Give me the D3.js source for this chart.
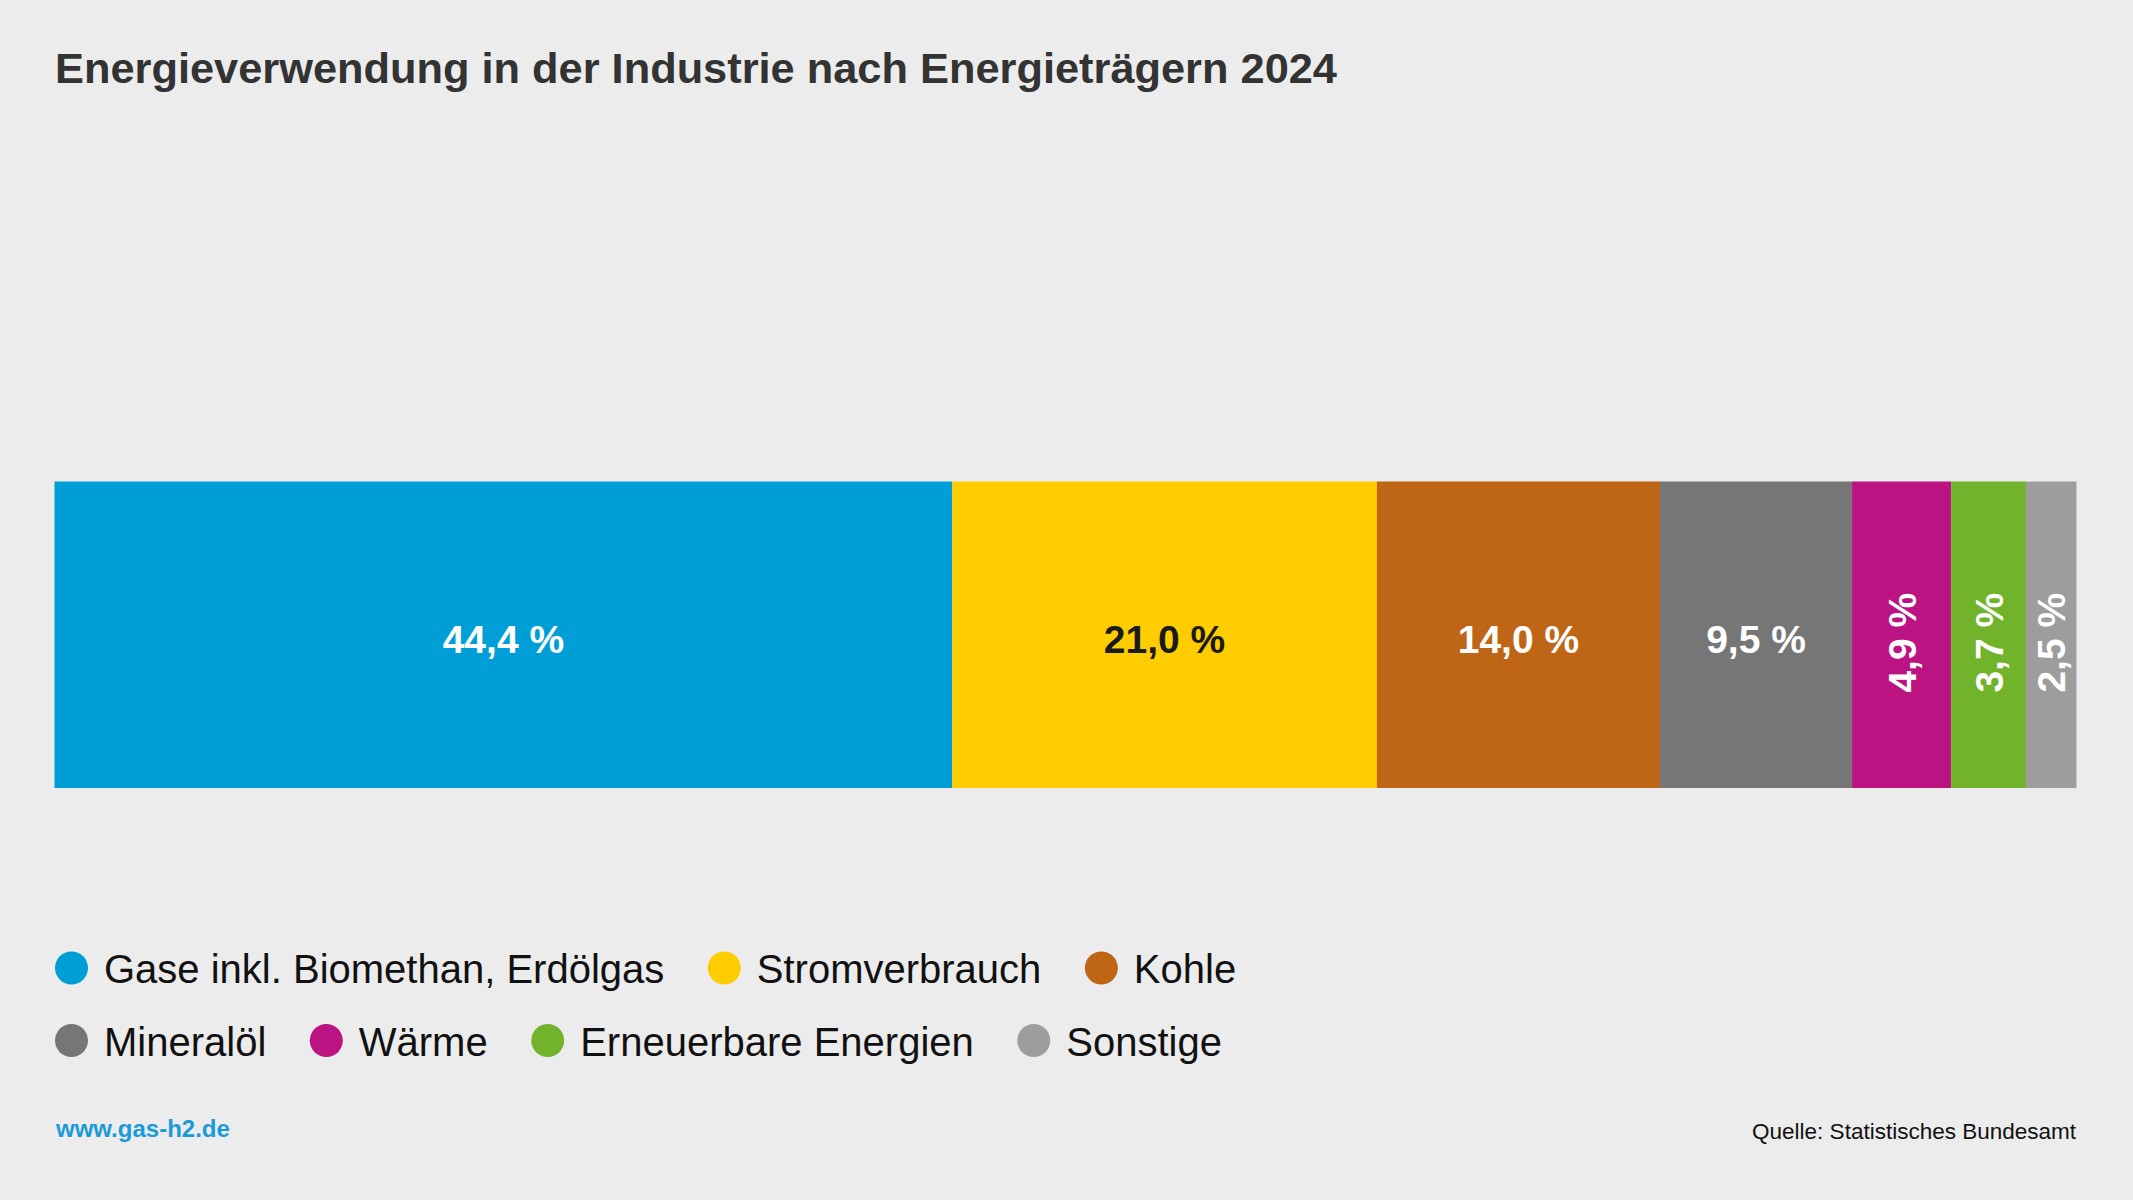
<!DOCTYPE html>
<html>
<head>
<meta charset="utf-8">
<script src="https://cdn.jsdelivr.net/npm/d3@7"></script>
<style>
  html, body { margin: 0; padding: 0; background: #ececec; }
  svg { display: block; font-family: "Liberation Sans", Arial, sans-serif; }
</style>
</head>
<body>
<svg id="chart" width="2133" height="1200"></svg>
<script>
// data
var categories = ["Gase inkl. Biomethan, Erdölgas", "Stromverbrauch", "Kohle",
                  "Mineralöl", "Wärme", "Erneuerbare Energien", "Sonstige"];
var shares = [44.4, 21.0, 14.0, 9.5, 4.9, 3.7, 2.5];
var colors = ["#009ed6", "#ffcc00", "#bf6516", "#767676", "#bb1382", "#71b42b", "#9d9d9d"];
var labelColors = ["#fff", "#1a1a1a", "#fff", "#fff", "#fff", "#fff", "#fff"];
var legendRows = [3, 4];

var svg = d3.select("#chart");
var W = 2133, H = 1200;

svg.append("rect").attr("width", W).attr("height", H).attr("fill", "#ececec");

// title
svg.append("text")
    .attr("x", 55).attr("y", 83)
    .attr("font-size", 43).attr("font-weight", "bold")
    .attr("fill", "#333")
    .attr("textLength", 1282).attr("lengthAdjust", "spacingAndGlyphs")
    .text("Energieverwendung in der Industrie nach Energieträgern 2024");

// bar
var x = d3.scaleLinear().domain([0, 100]).range([54.5, 2076.5]);
var y = d3.scaleBand().domain(["2024"]).range([481.5, 788]);

var starts = [0].concat(Array.from(d3.cumsum(shares)).slice(0, -1));
var segs = shares.map(function(v, i) {
    return { name: categories[i], value: v, x0: starts[i], x1: starts[i] + v, i: i };
});

var fmt = function(v) { return d3.format(".1f")(v).replace(".", ",") + " %"; };

var g = svg.append("g");
g.selectAll("rect.seg")
    .data(segs)
    .join("rect")
    .attr("class", "seg")
    .attr("x", function(d) { return x(d.x0); })
    .attr("y", y("2024"))
    .attr("width", function(d) { return x(d.x1) - x(d.x0); })
    .attr("height", y.bandwidth())
    .attr("fill", function(d) { return colors[d.i]; });

var cy = y("2024") + y.bandwidth() / 2;
var fs = 39;
g.selectAll("text.lbl")
    .data(segs)
    .join("text")
    .attr("class", "lbl")
    .attr("font-size", fs).attr("font-weight", "bold")
    .attr("text-anchor", "middle")
    .attr("fill", function(d) { return labelColors[d.i]; })
    .text(function(d) { return fmt(d.value); })
    .each(function(d) {
        var t = d3.select(this);
        var w = this.getComputedTextLength();
        var segW = x(d.x1) - x(d.x0);
        var mx = (x(d.x0) + x(d.x1)) / 2;
        // narrow segments get a vertical label
        if (w + 30 > segW) {
            t.attr("transform", "translate(" + (mx + 14) + "," + (cy + 8) + ") rotate(-90)");
        } else {
            t.attr("x", mx).attr("y", cy + 18);
        }
    });

// legend
var lg = svg.append("g");
var idx = 0;
legendRows.forEach(function(n, r) {
    var rowY = 968 + r * 72.5;
    var cx = 71.5;
    for (var k = 0; k < n; k++, idx++) {
        lg.append("circle")
            .attr("cx", cx).attr("cy", rowY).attr("r", 16.5)
            .attr("fill", colors[idx]);
        var t = lg.append("text")
            .attr("x", cx + 32.5).attr("y", rowY + 15)
            .attr("font-size", 40).attr("fill", "#111")
            .text(categories[idx]);
        cx += 32.5 + t.node().getComputedTextLength() + 60;
    }
});

// footer
svg.append("text")
    .attr("x", 56).attr("y", 1137)
    .attr("font-size", 24).attr("font-weight", "bold")
    .attr("fill", "#1a9ad9")
    .text("www.gas-h2.de");

svg.append("text")
    .attr("x", 2076).attr("y", 1139)
    .attr("text-anchor", "end")
    .attr("font-size", 22.5).attr("fill", "#111")
    .text("Quelle: Statistisches Bundesamt");
</script>
</body>
</html>
